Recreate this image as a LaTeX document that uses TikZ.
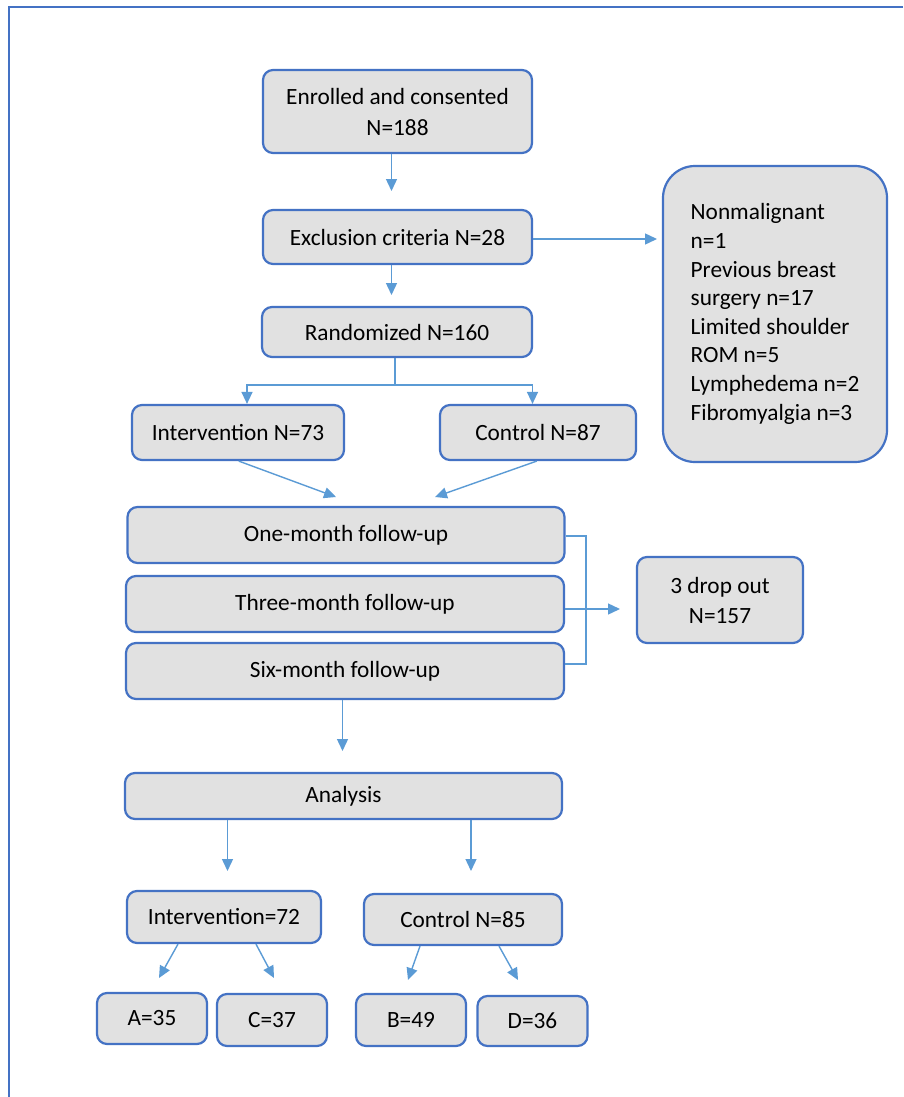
\documentclass[tikz,border=0pt]{standalone}
\usepackage{fontspec}
\setmainfont{Carlito}
\usetikzlibrary{arrows.meta}
\definecolor{lineblue}{HTML}{5B9BD5}
\definecolor{boxblue}{HTML}{4472C4}
\definecolor{boxfill}{HTML}{E1E1E1}
\begin{document}
\begin{tikzpicture}[x=1pt,y=-1pt,
  fbox/.style={draw=boxblue, line width=2.2pt, fill=boxfill, rounded corners=10pt,
    inner sep=0pt, align=center, font=\fontsize{23.3}{30}\selectfont},
  arr/.style={draw=lineblue, line width=1.4pt, -{Triangle[length=12pt,width=11pt]}},
  ln/.style={draw=lineblue, line width=1.4pt}]
\useasboundingbox (0,0) rectangle (903,1097);
\fill[white] (0,0) rectangle (903,1097);
% outer frame
\draw[boxblue, line width=2pt] (903,7.5) -- (9,7.5) -- (9,1097);

% nodes
\node[fbox, minimum width=269pt, minimum height=83pt, font=\fontsize{23.3}{31}\selectfont] (enr) at (397.5,111.5) {Enrolled and consented\\N=188};
\node[fbox, minimum width=269pt, minimum height=54pt] (exc) at (397.5,237) {Exclusion criteria N=28};
\node[fbox, minimum width=270pt, minimum height=50pt] (ran) at (397,332) {Randomized N=160};
\node[fbox, minimum width=212pt, minimum height=55pt] (int73) at (238,432.5) {Intervention N=73};
\node[fbox, minimum width=196pt, minimum height=55pt] (con87) at (538,432.5) {Control N=87};
\node[fbox, rounded corners=32pt, minimum width=224pt, minimum height=296pt, align=left, font=\fontsize{23.3}{28.6}\selectfont] (list) at (775,314) {Nonmalignant\\n=1\\Previous breast\\surgery n=17\\Limited shoulder\\ROM n=5\\Lymphedema n=2\\Fibromyalgia n=3};
\node[fbox, minimum width=437pt, minimum height=56pt] (one) at (346,535) {One-month follow-up};
\node[fbox, minimum width=438pt, minimum height=56pt] (three) at (345,604) {Three-month follow-up};
\node[fbox, minimum width=438pt, minimum height=56pt] (six) at (345,671) {Six-month follow-up};
\node[fbox, minimum width=166pt, minimum height=86pt] (drop) at (720,600) {3 drop out\\N=157};
\node[fbox, minimum width=437pt, minimum height=46pt] (ana) at (343.5,796) {Analysis};
\node[fbox, minimum width=194pt, minimum height=52pt] (int72) at (224,917) {Intervention=72};
\node[fbox, minimum width=198pt, minimum height=51pt] (con85) at (463,919.5) {Control N=85};
\node[fbox, minimum width=110pt, minimum height=51pt] (A) at (152,1018.5) {A=35};
\node[fbox, minimum width=110pt, minimum height=52pt] (C) at (272,1020) {C=37};
\node[fbox, minimum width=110pt, minimum height=52pt] (B) at (411,1020) {B=49};
\node[fbox, minimum width=110pt, minimum height=50pt] (D) at (532.5,1021) {D=36};

% arrow end points
\coordinate (t1) at (391.5,191);
\coordinate (t2) at (391.5,295);
\coordinate (t3) at (657,239);
\coordinate (s1) at (395,385);
\coordinate (t4) at (336,497);
\coordinate (t5) at (435,497);
\coordinate (br) at (586,609);
\coordinate (t6) at (620,609);
\coordinate (t7) at (342.5,751);
\coordinate (t8) at (227.5,871);
\coordinate (t9) at (471,871);
\coordinate (tA) at (159,978);
\coordinate (tC) at (274,978);
\coordinate (tB) at (408,980);
\coordinate (tD) at (518,980);

% connectors
\draw[arr] (enr.south -| t1) -- (t1);
\draw[arr] (exc.south -| t2) -- (t2);
\draw[arr] (exc.east |- t3) -- (t3);
\draw[ln] (ran.south -| s1) -- (s1);
\draw[arr] (s1) -| ([xshift=9pt]int73.north);
\draw[arr] (s1) -| ([xshift=-5.5pt]con87.north);
\draw[arr] ([xshift=0.8pt]int73.south) -- (t4);
\draw[arr] ([xshift=-1.3pt]con87.south) -- (t5);
\draw[ln] ([yshift=-1pt]one.east) -- ([yshift=-1pt]one.east -| br) -- ([yshift=7pt]six.east -| br) -- ([yshift=7pt]six.east);
\draw[arr] (three.east |- t6) -- (t6);
\draw[arr] (six.south -| t7) -- (t7);
\draw[arr] (ana.south -| t8) -- (t8);
\draw[arr] (ana.south -| t9) -- (t9);
\draw[arr] ([xshift=-46pt]int72.south) -- (tA);
\draw[arr] ([xshift=32pt]int72.south) -- (tC);
\draw[arr] ([xshift=-43pt]con85.south) -- (tB);
\draw[arr] ([xshift=36pt]con85.south) -- (tD);
\end{tikzpicture}
\end{document}
